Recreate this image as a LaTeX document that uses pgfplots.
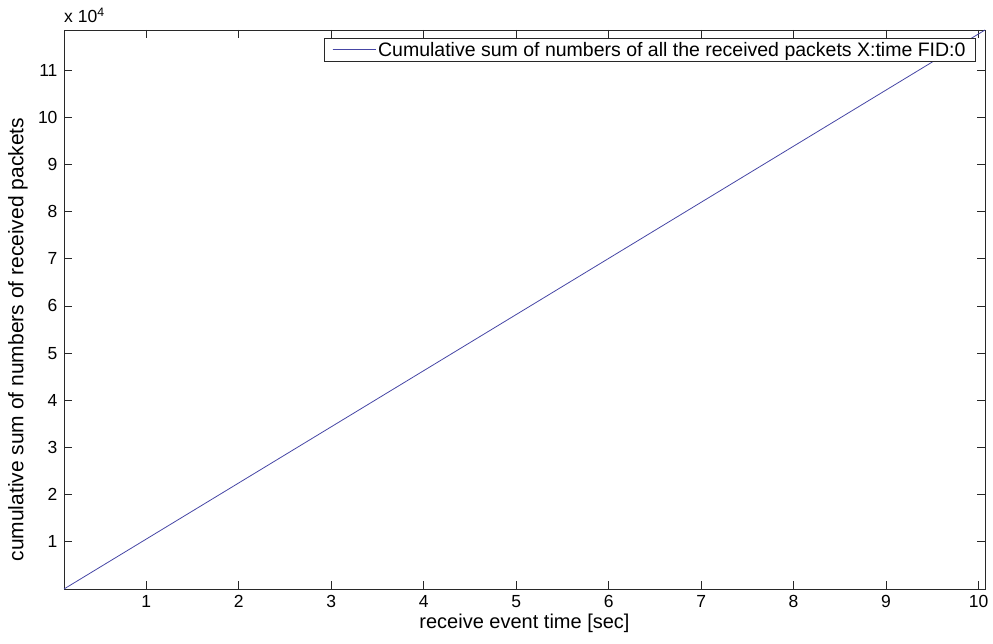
\documentclass[border=0pt]{standalone}
\usepackage{pgfplots}
\pgfplotsset{compat=1.18}
\usepackage{fontspec}
\setmainfont{Liberation Sans}
\definecolor{lineblue}{RGB}{70,70,165}
\definecolor{axgray}{RGB}{40,40,40}
\begin{document}
\begin{tikzpicture}[x=1pt,y=1pt]
\useasboundingbox (0,0) rectangle (993,643);
\begin{axis}[
  at={(64pt,54pt)}, anchor=south west,
  width=921pt, height=559pt, scale only axis,
  xmin=0.11, xmax=10.07, ymin=0, ymax=118500,
  scaled y ticks=false, scaled x ticks=false,
  xtick={1,2,3,4,5,6,7,8,9,10},
  xticklabels={1,2,3,4,5,6,7,8,9,10},
  ytick={10000,20000,30000,40000,50000,60000,70000,80000,90000,100000,110000},
  yticklabels={1,2,3,4,5,6,7,8,9,10,11},
  tick align=inside, tickpos=both,
  major tick length=8pt,
  axis line style={axgray, line width=0.9pt},
  every tick/.style={axgray, line width=0.9pt},
  tick label style={font=\fontsize{17.5}{20}\selectfont, text=black},
  xticklabel style={yshift=-3pt},
  yticklabel style={xshift=-3pt},
  xlabel={receive event time [sec]},
  ylabel={cumulative sum of numbers of received packets},
  xlabel style={font=\fontsize{20}{23}\selectfont, at={(axis description cs:0.5,0)}, anchor=center, yshift=-34pt},
  ylabel style={font=\fontsize{21}{24}\selectfont, at={(axis description cs:0,0.446)}, anchor=center, rotate=0, yshift=46pt},
  legend style={at={(rel axis cs:1,1)}, anchor=north east, xshift=-9pt, yshift=-8pt,
    draw=axgray, line width=0.9pt, font=\fontsize{19.5}{22}\selectfont,
    inner xsep=8pt, inner ysep=1.5pt, row sep=0pt},
  legend cell align=left,
  legend image code/.code={\draw[#1, line width=0.8pt] (0pt,0pt) -- (36pt,0pt);
    \path (0pt,0pt) -- (43pt,0pt);},
  clip=false,
]
\addplot[lineblue, line width=0.8pt] coordinates {(0.11,0) (10.07,118500)};
\addlegendentry{Cumulative sum of numbers of all the received packets X:time FID:0\hspace{6pt}}
\node[anchor=base west, font=\fontsize{17.5}{20}\selectfont, inner sep=0pt] at ([yshift=7pt]rel axis cs:0,1) {x 10\textsuperscript{4}};
\end{axis}
\end{tikzpicture}
\end{document}
